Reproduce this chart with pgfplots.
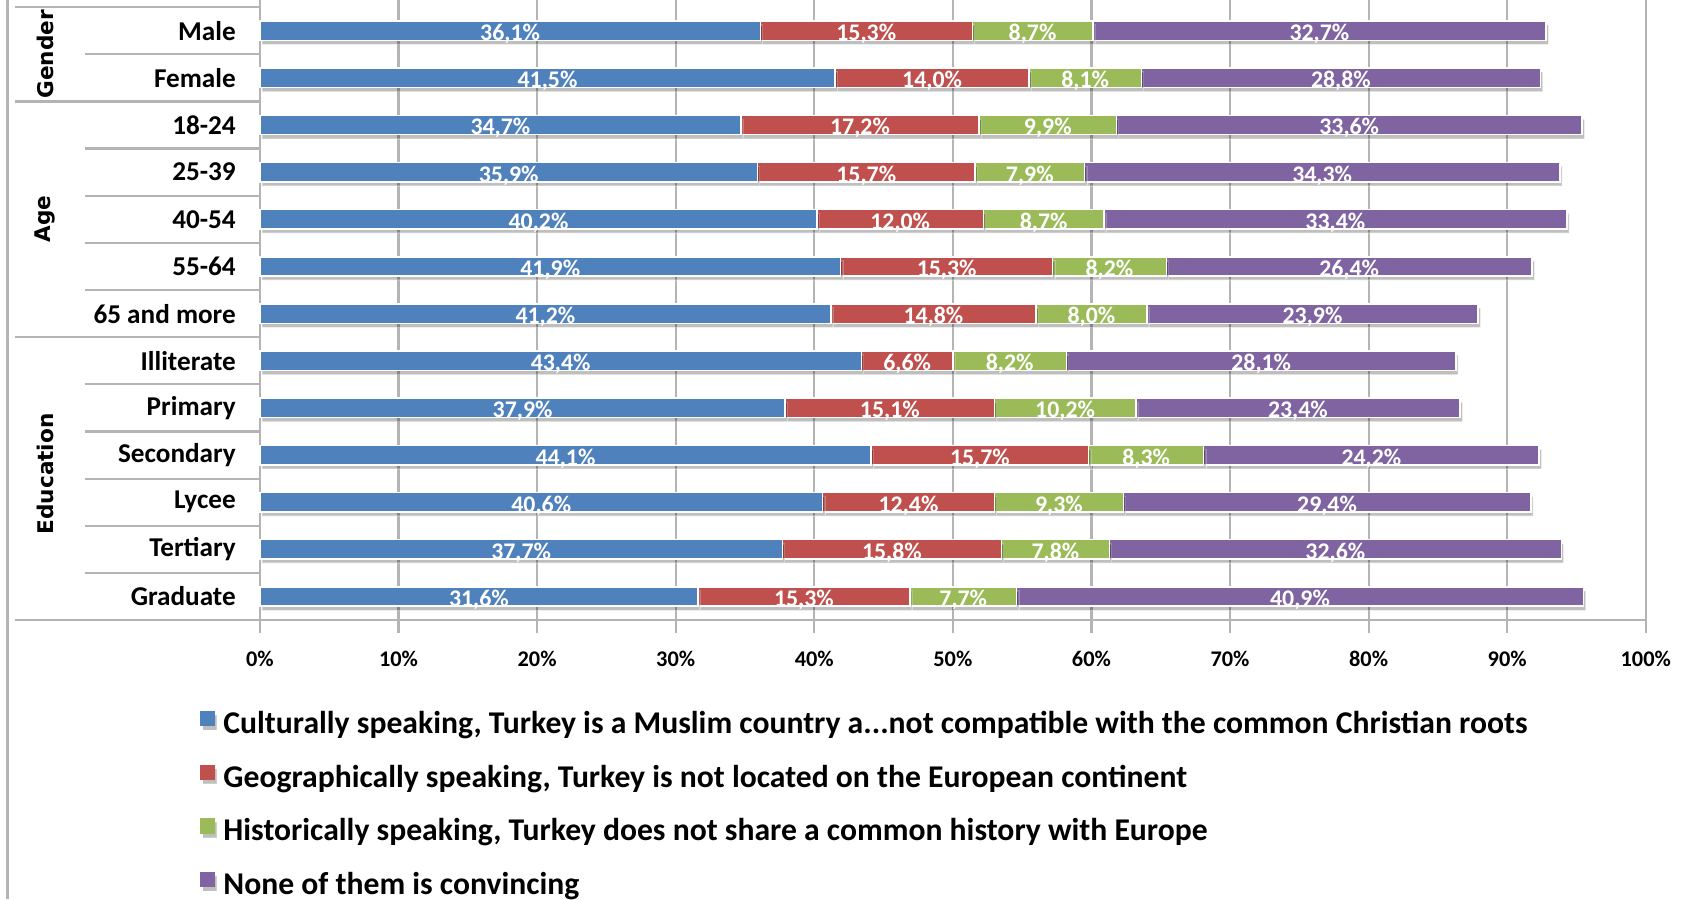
\documentclass[border=0pt]{standalone}
\usepackage{fontspec}
\setmainfont{Carlito}
\newfontfamily\grpfont{DejaVu Sans}
\usepackage{pgfplots}
\usepackage{pgfplotstable}
\pgfplotsset{compat=1.18}
\usetikzlibrary{shadows}

\definecolor{cBlue}{HTML}{4F81BD}
\definecolor{cRed}{HTML}{C0504D}
\definecolor{cGreen}{HTML}{9BBB59}
\definecolor{cPurple}{HTML}{8064A2}
\definecolor{lineGray}{HTML}{B4B4B4}

% idx 0 = Male (top) ... 12 = Graduate (bottom)
\pgfplotstableread{
idx cult geo  hist none
0   36.1 15.3 8.7  32.7
1   41.5 14.0 8.1  28.8
2   34.7 17.2 9.9  33.6
3   35.9 15.7 7.9  34.3
4   40.2 12.0 8.7  33.4
5   41.9 15.3 8.2  26.4
6   41.2 14.8 8.0  23.9
7   43.4 6.6  8.2  28.1
8   37.9 15.1 10.2 23.4
9   44.1 15.7 8.3  24.2
10  40.6 12.4 9.3  29.4
11  37.7 15.8 7.8  32.6
12  31.6 15.3 7.7  40.9
}\survey

\pgfplotsset{
  sqlegend/.style={legend image code/.code={\fill[##1,draw=none] (0pt,0.5pt) rectangle (3.8pt,4.6pt);}},
  seg/.style={fill=#1, draw=white, line width=0.4pt, sqlegend,
    drop shadow={shadow xshift=0.6pt, shadow yshift=-1.1pt, opacity=0.25, fill=black}},
}

\begin{document}
\begin{tikzpicture}
\useasboundingbox (0,0) rectangle (453.5pt,241.4pt);
\draw[lineGray, line width=0.6pt] (2pt,0) -- (2pt,241.4pt);
\begin{axis}[
  at={(69.8pt,74.9pt)}, anchor=south west,
  scale only axis, width=372.1pt, height=164.6pt,
  xbar stacked, bar width=5.2pt,
  xmin=0, xmax=100, ymin=-0.5, ymax=12.5, y dir=reverse,
  clip=false,
  axis line style={draw=none},
  xtick={0,10,...,100},
  xticklabel={\pgfmathprintnumber{\tick}\%},
  /pgf/number format/assume math mode=true,
  xticklabel style={font=\bfseries\fontsize{6}{7}\selectfont, anchor=center, yshift=-7pt},
  xmajorgrids, grid style={lineGray, line width=0.6pt},
  xtick style={lineGray, line width=0.6pt},
  tick align=outside, major tick length=3.5pt,
  ytick={0,...,12},
  yticklabels={Male,Female,18-24,25-39,40-54,55-64,65 and more,Illiterate,Primary,Secondary,Lycee,Tertiary,Graduate},
  ytick style={draw=none},
  yticklabel style={font=\bfseries\fontsize{7.3}{8}\selectfont, anchor=east, inner sep=0pt, xshift=-2.8pt},
  point meta=explicit,
  nodes near coords={\pgfmathprintnumber[fixed,fixed zerofill,precision=1,use comma]{\pgfplotspointmeta}\%},
  every node near coord/.append style={white, font=\bfseries\fontsize{6.4}{7}\selectfont, yshift=-0.9pt},
  legend style={at={(0,0)}, anchor=north west, xshift=-19.2pt, yshift=-22.2pt,
    draw=none, fill=none, font=\bfseries\fontsize{8.5}{9.5}\selectfont,
    row sep=5.8pt, column sep=2.4pt,
    nodes={inner sep=0pt, text height=5.5pt, text depth=2.5pt}},
  legend cell align=left,
]
\addplot[seg=cBlue] table[x=cult, y=idx, meta=cult] \survey;
\addlegendentry{Culturally speaking, Turkey is a Muslim country a...not compatible with the common Christian roots}
\addplot[seg=cRed] table[x=geo, y=idx, meta=geo] \survey;
\addlegendentry{Geographically speaking, Turkey is not located on the European continent}
\addplot[seg=cGreen] table[x=hist, y=idx, meta=hist] \survey;
\addlegendentry{Historically speaking, Turkey does not share a common history with Europe}
\addplot[seg=cPurple] table[x=none, y=idx, meta=none] \survey;
\addlegendentry{None of them is convincing}

% frame of the category table on the left
\draw[lineGray, line width=0.6pt] (axis cs:0,-0.5) -- (axis cs:0,12.5);
\draw[lineGray, line width=0.6pt] ([xshift=-65.8pt]axis cs:0,12.5) -- (axis cs:100,12.5);
\draw[lineGray, line width=0.6pt] ([xshift=-65.8pt]axis cs:0,-0.5) -- (axis cs:0,-0.5);
\pgfplotsinvokeforeach{1.5,6.5}{
  \draw[lineGray, line width=0.6pt] ([xshift=-65.8pt]axis cs:0,#1) -- (axis cs:0,#1);
}
\pgfplotsinvokeforeach{0.5,2.5,3.5,4.5,5.5,7.5,8.5,9.5,10.5,11.5}{
  \draw[lineGray, line width=0.6pt] ([xshift=-47pt]axis cs:0,#1) -- (axis cs:0,#1);
}
\node[rotate=90, font=\grpfont\bfseries\fontsize{5.8}{7}\selectfont] at ([xshift=-57.6pt]axis cs:0,0.5) {Gender};
\node[rotate=90, font=\grpfont\bfseries\fontsize{5.8}{7}\selectfont] at ([xshift=-57.6pt]axis cs:0,4) {Age};
\node[rotate=90, font=\grpfont\bfseries\fontsize{5.8}{7}\selectfont] at ([xshift=-57.6pt]axis cs:0,9.4) {Education};
\end{axis}
\end{tikzpicture}
\end{document}
